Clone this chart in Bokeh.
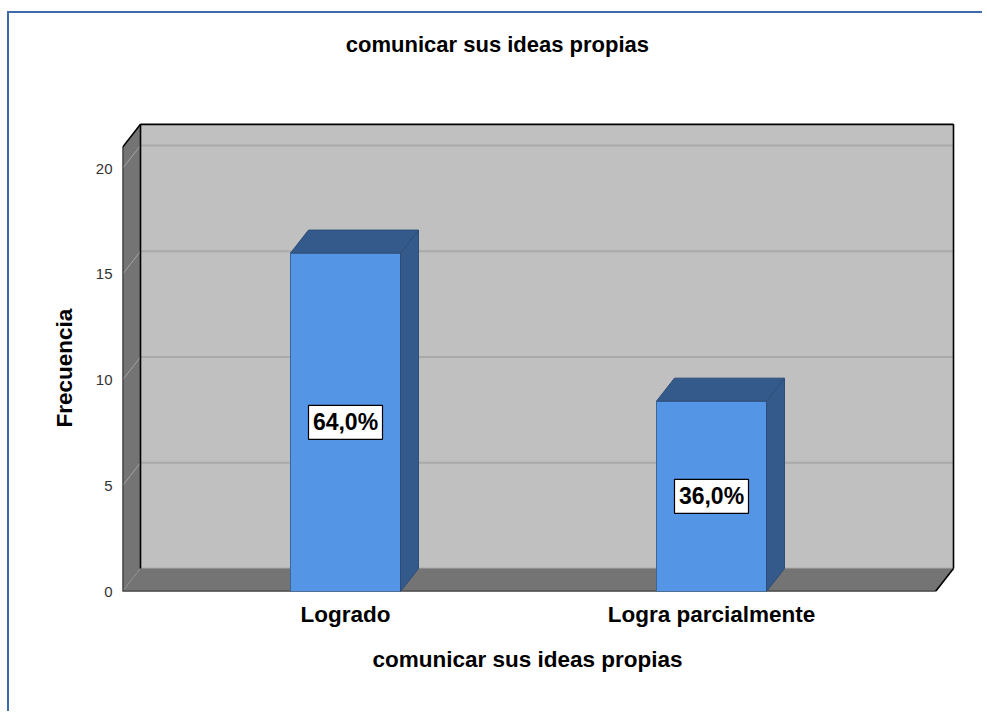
from bokeh.plotting import figure
from bokeh.models import Range1d, FixedTicker, ColumnDataSource, Title
from bokeh.core.properties import value
from bokeh.embed import file_html
from bokeh.resources import INLINE

# ---------------- data ----------------
chart_title = "comunicar  sus ideas propias"
x_axis_title = "comunicar  sus ideas propias"
y_axis_title = "Frecuencia"
categories = ["Logrado", "Logra parcialmente"]
counts = [16, 9]
y_ticks = [0, 5, 10, 15, 20]
wall_top = 21

total = sum(counts)
pct_labels = [f"{c / total * 100:.1f}%".replace(".", ",") for c in counts]

# ---------------- geometry (styles) ----------------
PX_X = 366.0          # pixels per category unit
PX_Y = 21.15          # pixels per frequency unit
DX = 18 / PX_X        # 3D depth offset (x)
DY = 23 / PX_Y        # 3D depth offset (y)
FL = -40 / PX_X       # front-left edge of the box
FR = 773 / PX_X       # front-right edge of the box
BAR_W = 110 / PX_X
FRAME_W = 833
FRAME_H = 577

FONT = "Liberation Sans"
WALL = "#c0c0c0"
DARK = "#747474"
BAR_FRONT = "#5595e5"
BAR_DARK = "#345a8b"

p = figure(width=975, height=700, output_backend="svg", toolbar_location=None,
           x_range=Range1d(FL, FL + FRAME_W / PX_X),
           y_range=Range1d(0, FRAME_H / PX_Y),
           min_border_left=113, min_border_right=29,
           min_border_top=1, min_border_bottom=122)
p.styles = {"border-top": "2px solid #3f6aa8", "border-left": "2px solid #3f6aa8",
            "margin-left": "7px", "margin-top": "11px"}
p.outline_line_color = None
p.background_fill_color = "white"
p.border_fill_color = "white"
p.xgrid.visible = False
p.ygrid.visible = False

# back wall
p.patch([FL + DX, FR + DX, FR + DX, FL + DX], [DY, DY, wall_top + DY, wall_top + DY],
        fill_color=WALL, line_color=None)
# gridlines on back wall
p.multi_line(xs=[[FL + DX, FR + DX] for t in y_ticks],
             ys=[[t + DY, t + DY] for t in y_ticks],
             line_color="#a9a9a9", line_width=2)
# left wall
p.patch([FL, FL + DX, FL + DX, FL], [0, DY, wall_top + DY, wall_top],
        fill_color=DARK, line_color=None)
p.multi_line(xs=[[FL, FL + DX] for t in y_ticks],
             ys=[[t, t + DY] for t in y_ticks],
             line_color="#a4a4a4", line_width=1)
# floor
p.patch([FL, FR, FR + DX, FL + DX], [0, 0, DY, DY], fill_color=DARK, line_color=None)
# box edges
edges_x = [[FL, FL], [FL, FL + DX], [FL + DX, FR + DX], [FL + DX, FL + DX],
           [FR + DX, FR + DX], [FL, FR], [FR, FR + DX]]
edges_y = [[0, wall_top], [wall_top, wall_top + DY], [wall_top + DY, wall_top + DY],
           [DY, wall_top + DY], [DY, wall_top + DY], [0, 0], [0, DY]]
p.multi_line(xs=edges_x, ys=edges_y, line_color="black", line_width=1.6)

# bars
xc = [i + 0.5 for i in range(len(categories))]
xl = [x - BAR_W / 2 for x in xc]
xr = [x + BAR_W / 2 for x in xc]
src = ColumnDataSource(dict(xc=xc, xl=xl, xr=xr, top=counts, mid=[c / 2 for c in counts],
                            lab=pct_labels))
p.quad(left="xl", right="xr", bottom=0, top="top", source=src,
       fill_color=BAR_FRONT, line_color="#3a6698", line_width=1)
p.patches(xs=[[r, r + DX, r + DX, r] for r in xr],
          ys=[[0, DY, c + DY, c] for c in counts],
          fill_color=BAR_DARK, line_color="#2d4d78", line_width=1)
p.patches(xs=[[l, r, r + DX, l + DX] for l, r in zip(xl, xr)],
          ys=[[c, c, c + DY, c + DY] for c in counts],
          fill_color=BAR_DARK, line_color="#2d4d78", line_width=1)

# value labels
p.rect(x="xc", y="mid", width=74, height=34, width_units="screen", height_units="screen",
       source=src, fill_color="white", line_color="black", line_width=1.2)
p.text(x="xc", y="mid", text="lab", source=src, text_align="center", text_baseline="middle",
       text_font=value(FONT), text_font_size="23px", text_font_style="bold", text_color="black")

# chart title (drawn inside the frame, above the box)
p.text(x=[(500 - 162) / PX_X], y=[(591 - 44) / PX_Y], text=[chart_title],
       text_align="center", text_baseline="alphabetic",
       text_font=value(FONT), text_font_size="22px", text_font_style="bold", text_color="black")

# y axis
p.yaxis.ticker = FixedTicker(ticks=y_ticks)
p.yaxis.axis_line_color = None
p.yaxis.major_tick_line_color = None
p.yaxis.minor_tick_line_color = None
p.yaxis.major_tick_out = 0
p.yaxis.major_tick_in = 0
p.yaxis.major_label_standoff = 10
p.yaxis.major_label_text_font = FONT
p.yaxis.major_label_text_font_size = "15px"
p.yaxis.major_label_text_color = "#333333"

# y axis title, centred on the 0-21 wall rather than the whole frame
p.add_layout(Title(text=y_axis_title, align="left", offset=164, standoff=32,
                   text_font=FONT, text_font_size="22.5px", text_font_style="bold",
                   text_color="black"), "left")

# x axis
p.xaxis.ticker = FixedTicker(ticks=xc)
p.xaxis.major_label_overrides = {x: c for x, c in zip(xc, categories)}
p.xaxis.axis_line_color = None
p.xaxis.major_tick_line_color = None
p.xaxis.minor_tick_line_color = None
p.xaxis.major_label_standoff = 4
p.xaxis.major_label_text_font = FONT
p.xaxis.major_label_text_font_size = "22.5px"
p.xaxis.major_label_text_font_style = "bold"
p.xaxis.major_label_text_color = "black"

# x axis title, centred on the front face of the box
p.add_layout(Title(text=x_axis_title, align="left", offset=250, standoff=34,
                   vertical_align="top",
                   text_font=FONT, text_font_size="22.5px", text_font_style="bold",
                   text_color="black"), "below")

open("out.html", "w").write(file_html(p, INLINE))
